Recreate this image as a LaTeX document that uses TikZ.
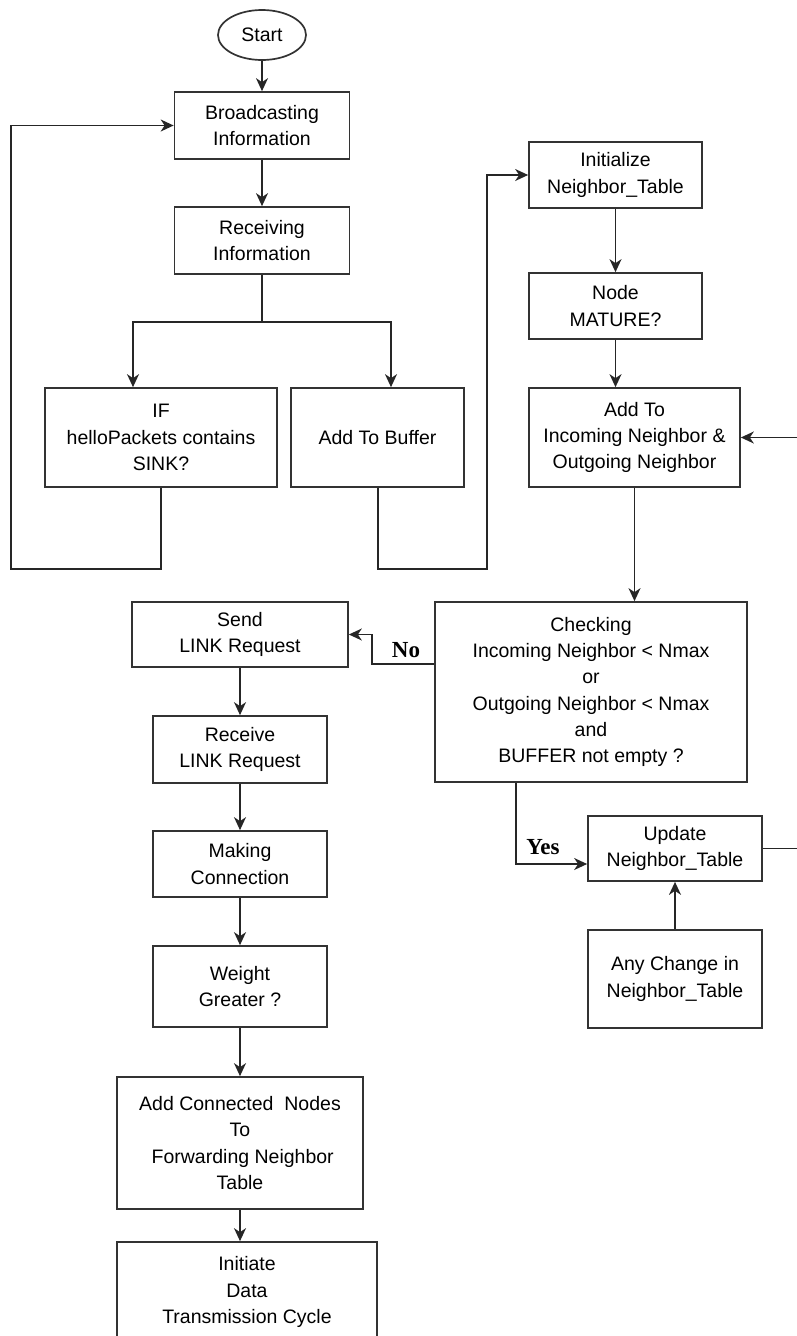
\documentclass[tikz,border=0pt]{standalone}
\usepackage{fontspec}
\setmainfont{Liberation Sans}
\newfontfamily\lblfont{Liberation Serif}
\usetikzlibrary{arrows.meta,calc,shapes.geometric}
\begin{document}
\begin{tikzpicture}[x=1pt,y=-1pt,
  box/.style={draw=black!80, line width=1.7pt, rectangle, align=center, inner sep=0pt,
    font=\fontsize{19.5}{26.3}\selectfont},
  arr/.style={draw=black!85, line width=1.7pt, -{Stealth[length=13pt,width=12pt,inset=4pt]}},
  ln/.style={draw=black!85, line width=1.7pt},
  lbl/.style={font=\lblfont\bfseries\fontsize{23}{26}\selectfont, inner sep=0pt}
]
\useasboundingbox (0,0) rectangle (797,1336);
% top-left column
\node[draw=black!80, line width=1.7pt, ellipse, minimum width=88pt, minimum height=50pt, inner sep=0pt,
  font=\fontsize{19.5}{26.3}\selectfont] (start) at (262,35) {Start};
\node[box, minimum width=175pt, minimum height=67pt] (bc) at (262,125.5) {Broadcasting\\Information};
\node[box, minimum width=175pt, minimum height=67pt] (rc) at (262,240.5) {Receiving\\Information};
\node[box, minimum width=232pt, minimum height=99pt] (ifb) at (161,437.5) {IF\\helloPackets contains\\SINK?};
\node[box, minimum width=173pt, minimum height=99pt] (buf) at (377.5,437.5) {Add To Buffer};
% right column
\node[box, minimum width=173pt, minimum height=66pt] (init) at (615.5,175) {Initialize\\Neighbor\_Table};
\node[box, minimum width=173pt, minimum height=66pt] (mat) at (615.5,306) {Node\\MATURE?};
\node[box, minimum width=211pt, minimum height=99pt] (add) at (634.5,437.5) {Add To\\Incoming Neighbor \&\\Outgoing Neighbor};
\node[box, minimum width=312pt, minimum height=180pt] (chk) at (591,692) {Checking\\Incoming Neighbor {\textless} Nmax\\or\\Outgoing Neighbor {\textless} Nmax\\and\\BUFFER not empty ?};
\node[box, minimum width=174pt, minimum height=65pt] (upd) at (675,848.5) {Update\\Neighbor\_Table};
\node[box, minimum width=174pt, minimum height=98pt] (any) at (675,979) {Any Change in\\Neighbor\_Table};
% lower-left column
\node[box, minimum width=216pt, minimum height=65pt] (send) at (240,634.5) {Send\\LINK Request};
\node[box, minimum width=174pt, minimum height=67pt] (recv) at (240,749.5) {Receive\\LINK Request};
\node[box, minimum width=174pt, minimum height=66pt] (make) at (240,864) {Making\\Connection};
\node[box, minimum width=174pt, minimum height=81pt] (wgt) at (240,986.5) {Weight\\Greater ?};
\node[box, minimum width=246pt, minimum height=132pt] (addc) at (240,1143) {Add Connected\ \ Nodes\\To\\\ Forwarding Neighbor\\Table};
\node[box, minimum width=260pt, minimum height=100pt] (initd) at (247,1292) {Initiate\\Data\\Transmission Cycle};
% labels
\node[lbl] (no) at (406,650) {No};
\node[lbl] (yes) at (543,847) {Yes};
% connectors
\coordinate (j1) at (262,322);
\draw[arr] (start) -- (bc);
\draw[arr] (bc) -- (rc);
\draw[ln] (rc.south) -- (j1);
\draw[arr] (j1) -| ([xshift=-28pt]ifb.north);
\draw[arr] (j1) -| ([xshift=13.5pt]buf.north);
\draw[arr] (ifb.south) |- (11,569) |- (bc.west);
\draw[arr] ([xshift=0.5pt]buf.south) |- (487,569) |- (init.west);
\draw[arr] (init) -- (mat);
\draw[arr] (mat.south) -- (mat.south |- add.north);
\draw[arr] (add.south) -- (add.south |- chk.north);
\draw[arr] ([yshift=28pt]chk.west) -- (372,664) |- (send.east);
\draw[arr] ([xshift=-75pt]chk.south) |- ([yshift=-15.5pt]upd.west);
\draw[arr] (any) -- (upd);
\draw[arr] (upd.east) -- (799,848.5) |- (add.east);
\draw[arr] (send) -- (recv);
\draw[arr] (recv) -- (make);
\draw[arr] (make) -- (wgt);
\draw[arr] (wgt) -- (addc);
\draw[arr] (addc.south) -- (addc.south |- initd.north);
\end{tikzpicture}
\end{document}
